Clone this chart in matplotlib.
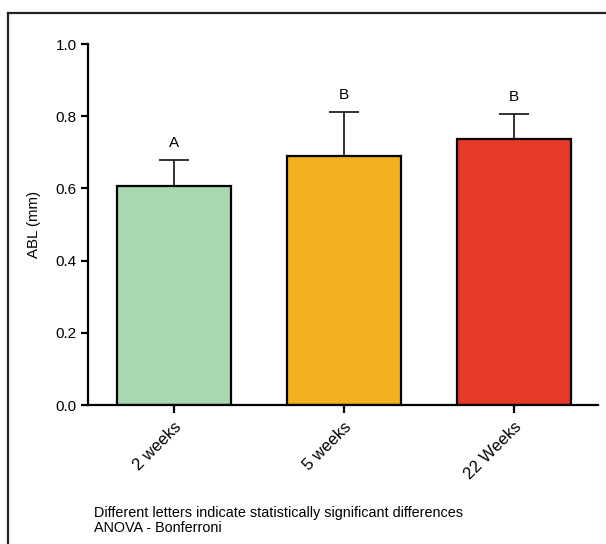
import matplotlib
matplotlib.use("Agg")
import matplotlib.pyplot as plt
from matplotlib.lines import Line2D

categories = ["2 weeks", "5 weeks", "22 Weeks"]
means = [0.607, 0.690, 0.737]
errors = [0.072, 0.122, 0.069]
letters = ["A", "B", "B"]
colors = ["#a8d8b0", "#f2b01e", "#e63a29"]
yticks = [0.0, 0.2, 0.4, 0.6, 0.8, 1.0]

plt.rcParams["font.family"] = ["Liberation Sans", "DejaVu Sans"]

fig = plt.figure(figsize=(6.06, 5.44), dpi=100)
ax = fig.add_axes([0.145, 0.2555, 0.842, 0.6635])

x = list(range(len(categories)))
ax.bar(x, means, width=0.67, color=colors, edgecolor="black", linewidth=1.6, zorder=2)
ax.errorbar(x, means, yerr=[[0]*len(errors), errors], fmt="none", ecolor="#222222",
            elinewidth=1.3, capsize=11, capthick=1.3, zorder=1)
for xi, m, e, l in zip(x, means, errors, letters):
    ax.annotate(l, (xi, m + e), xytext=(0, 7), textcoords="offset points",
                ha="center", va="bottom", fontsize=11)

ax.set_xlim(-0.506, 2.494)
ax.set_ylim(0, 1.0)
ax.set_yticks(yticks)
ax.set_yticklabels([f"{t:.1f}" for t in yticks], fontsize=11)
ax.set_xticks(x)
ax.set_xticklabels(categories, rotation=45, ha="right", rotation_mode="anchor", fontsize=12)
ax.set_ylabel("ABL (mm)", fontsize=10.8)
ax.yaxis.set_label_coords(-(88 - 41) / 510, 0.5)
for s in ["top", "right"]:
    ax.spines[s].set_visible(False)
for s in ["left", "bottom"]:
    ax.spines[s].set_linewidth(1.6)
ax.tick_params(axis="y", length=5, width=1.6, pad=3)
ax.tick_params(axis="x", length=6, width=1.6, pad=4)

fig.text(94/606, 1 - 513/544, "Different letters indicate statistically significant differences",
         fontsize=10.4, va="center", ha="left")
fig.text(94/606, 1 - 528/544, "ANOVA - Bonferroni", fontsize=10.4, va="center", ha="left")

fig.add_artist(Line2D([8/606, 8/606], [0, 1 - 13/544], transform=fig.transFigure,
                      color="#222222", linewidth=1.6))
fig.add_artist(Line2D([8/606, 1], [1 - 13/544, 1 - 13/544], transform=fig.transFigure,
                      color="#222222", linewidth=1.6))

fig.savefig("out.png", dpi=100)
